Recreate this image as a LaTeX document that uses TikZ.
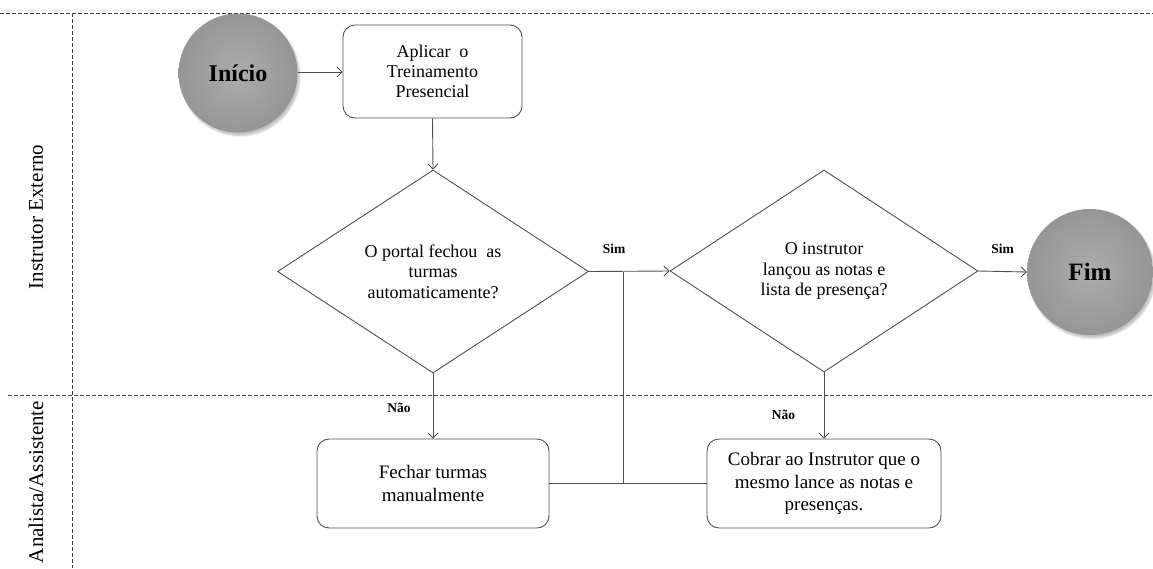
\documentclass[tikz,border=0pt]{standalone}
\usepackage{fontspec}
\setmainfont{Liberation Serif}
\usetikzlibrary{shapes.geometric,arrows.meta,shadows.blur}

\definecolor{linegray}{RGB}{80,80,80}
\definecolor{dashgray}{RGB}{60,60,60}
\definecolor{ballin}{RGB}{172,172,172}
\definecolor{ballout}{RGB}{150,150,150}

\tikzset{
  lane/.style={draw=dashgray, line width=0.8pt, dash pattern=on 3.5pt off 2.5pt},
  lanelabel/.style={rotate=90, font=\fontsize{21}{24}\selectfont},
  terminal/.style={circle, inner sep=0pt, inner color=ballin, outer color=ballout,
    blur shadow={shadow xshift=2pt, shadow yshift=-3pt, shadow blur steps=6, shadow opacity=25},
    font=\bfseries\fontsize{24}{28}\selectfont},
  process/.style={draw=linegray, line width=0.9pt, rounded corners=12pt, align=center,
    inner sep=0pt, font=\fontsize{19}{22.5}\selectfont},
  decision/.style={diamond, draw=linegray, line width=0.9pt, inner sep=0pt, align=center,
    font=\fontsize{18}{20.5}\selectfont},
  flow/.style={draw=linegray, line width=0.9pt, -{Straight Barb[length=5pt, width=10pt, line width=0.9pt]}},
  plain/.style={draw=linegray, line width=0.9pt},
  answer/.style={font=\bfseries\fontsize{13.5}{16}\selectfont, inner sep=0pt}
}

\begin{document}
\begin{tikzpicture}[x=1pt, y=-1pt]
  \useasboundingbox (0,0) rectangle (1153,568);

  % swimlane frame
  \draw[lane] (0,13) -- (1153,13);
  \draw[lane] (8,395) -- (1153,395);
  \draw[lane] (72.5,13) -- (72.5,568);
  \node[lanelabel] (laneA) at (36,217) {Instrutor Externo};
  \node[lanelabel] (laneB) at (36,482) {Analista/Assistente};

  % nodes
  \node[terminal, minimum size=119pt] (inicio) at (238,73) {Início};
  \node[process, minimum width=179pt, minimum height=93pt,
        font=\fontsize{18}{20}\selectfont] (aplicar) at (432.5,71.5)
    {Aplicar\ \ o\\Treinamento\\Presencial};
  \node[decision, minimum width=311pt, minimum height=203pt] (portal) at (433,271.5)
    {O portal fechou\ \ as\\turmas\\automaticamente?};
  \node[decision, minimum width=308pt, minimum height=202pt] (lancou) at (824,271)
    {O instrutor\\lançou as notas e\\lista de presença?};
  \node[terminal, minimum size=126pt, font=\bfseries\fontsize{25}{28}\selectfont] (fim) at (1090,272) {Fim};
  \node[process, minimum width=232pt, minimum height=89pt] (fechar) at (433,483.5)
    {Fechar turmas\\manualmente};
  \node[process, minimum width=234pt, minimum height=89pt] (cobrar) at (824,483.5)
    {Cobrar ao Instrutor que o\\mesmo lance as notas e\\presenças.};

  % answer labels
  \node[answer] (sim1) at (614,249) {Sim};
  \node[answer] (sim2) at (1002.5,249) {Sim};
  \node[answer] (nao1) at (399,407.5) {Não};
  \node[answer] (nao2) at (783.5,414.5) {Não};

  % junction points of the merge line
  \coordinate (merge) at (623,271.5);
  \coordinate (join) at (623,483.5);

  % connectors
  \draw[flow] (inicio.east |- 0,72) -- (aplicar.west |- 0,72);
  \draw[flow] (aplicar.south) -- (portal.north);
  \draw[flow] (portal.east) -- (lancou.west);
  \draw[flow] (portal.south) -- (fechar.north);
  \draw[flow] (lancou.south) -- (cobrar.north);
  \draw[flow] (lancou.east) -- (fim.west);
  \draw[plain] (fechar.east) -- (cobrar.west);
  \draw[plain] (join) -- (merge);
\end{tikzpicture}
\end{document}
